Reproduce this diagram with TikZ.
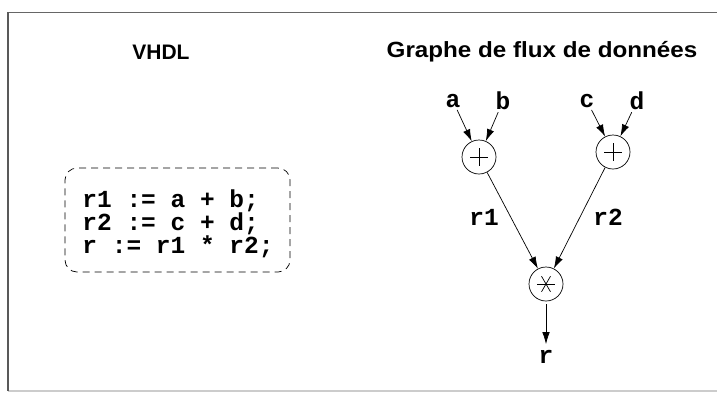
\documentclass[tikz,border=0pt]{standalone}
\usepackage{fontspec}
\setmainfont{Liberation Sans}
\newfontfamily\codefont{Liberation Mono}
\usetikzlibrary{arrows.meta}
\begin{document}
\begin{tikzpicture}[x=1pt,y=-1pt,
  title/.style={font=\fontsize{21}{25}\selectfont\bfseries},
  code/.style={font=\fontsize{24.5}{23}\selectfont\codefont\bfseries, inner sep=2pt},
  op/.style={draw, circle, minimum size=34pt, inner sep=0pt, line width=0.7pt},
  arr/.style={-{Latex[length=12pt,width=7.5pt]}, line width=0.7pt},
  ln/.style={line width=0.7pt}]
\useasboundingbox (0,0) rectangle (717,392);
\fill[white] (0,0) rectangle (717,392);
% frame
\coordinate (fTL) at (8,12);
\coordinate (fTR) at (717,12);
\coordinate (fBL) at (8,391);
\coordinate (fBR) at (717,391);
\draw[black!60, line width=1pt] (fTL) -- (fTR);
\draw[gray!40, line width=1.2pt] (fBL) -- (fBR);
\draw[black!65, line width=2pt] (fTL) -- (fBL);
% titles
\node[title] (t1) at (161,52) {VHDL};
\node[title] (t2) at (542,52) {\scalebox{1.1}[1]{\fontsize{22}{26}\selectfont Graphe de flux de données}};
% code box
\node[draw, dashed, dash pattern=on 7pt off 5pt, rounded corners=12pt, minimum width=225pt, minimum height=104pt, line width=0.7pt] (box) at (177.5,220) {};
\node[code, align=left] (prog) at (178,224) {r1 := a + b;\\ r2 := c + d;\\ r := r1 * r2;};
% graph
\node[code] (a) at (453,101) {a};
\node[code] (b) at (503,101) {b};
\node[code] (c) at (587,101) {c};
\node[code] (d) at (637,101) {d};
\node[op] (p1) at (479,157) {};
\node[op] (p2) at (613,152) {};
\node[op] (m) at (546,284) {};
\node[code] (r) at (546,357) {r};
\node[code] (l1) at (484,217) {r1};
\node[code] (l2) at (608,217) {r2};
\draw[ln] (p1.center) ++(-9,0) -- ++(18,0);
\draw[ln] (p1.center) ++(0,-9) -- ++(0,18);
\draw[ln] (p2.center) ++(-9,0) -- ++(18,0);
\draw[ln] (p2.center) ++(0,-9) -- ++(0,18);
\draw[ln] (m.center) ++(-9,0) -- ++(18,0);
\draw[ln] (m.center) ++(60:9) -- ++(240:18);
\draw[ln] (m.center) ++(120:9) -- ++(300:18);
\draw[arr] (a) -- (p1);
\draw[arr] (b) -- (p1);
\draw[arr] (c) -- (p2);
\draw[arr] (d) -- (p2);
\draw[arr] (p1) -- (m);
\draw[arr] (p2) -- (m);
\draw[arr, shorten <=3pt, shorten >=4pt] (m) -- (r);
\end{tikzpicture}
\end{document}
